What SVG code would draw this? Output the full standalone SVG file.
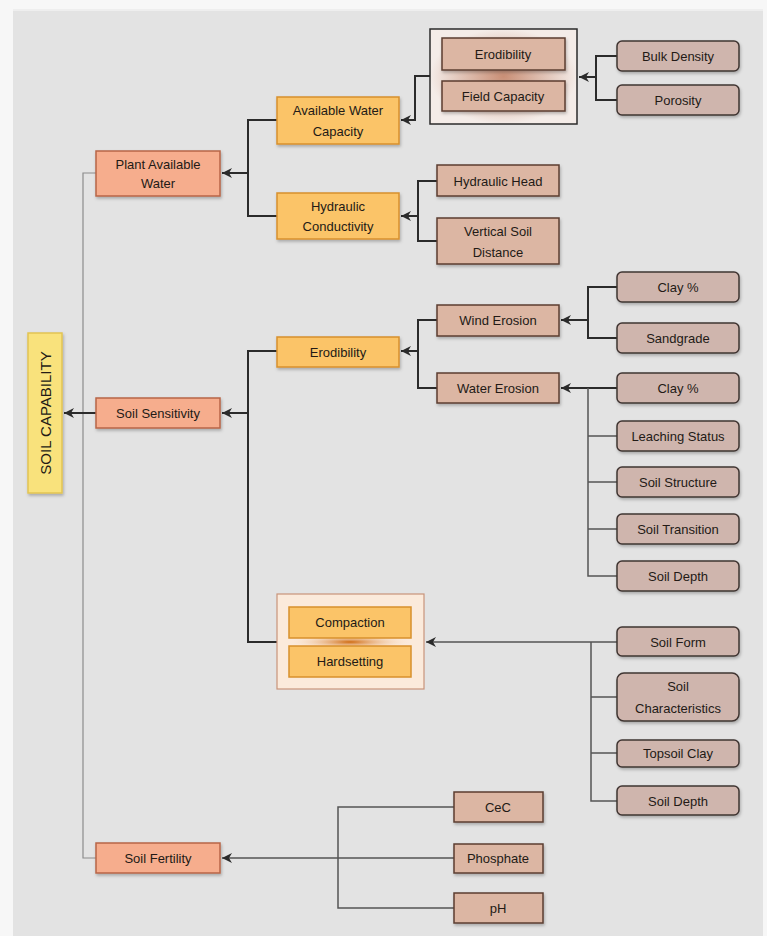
<svg xmlns="http://www.w3.org/2000/svg" width="767" height="936" viewBox="0 0 767 936">
<defs>
<style>
text{font-family:"Liberation Sans Narrow","Liberation Sans",Arial,sans-serif;font-size:13px;fill:#231a16;text-anchor:middle;dominant-baseline:central}
.salmon{fill:#f6ad8d;stroke:#b86548;stroke-width:1.5}
.orange{fill:#fbc468;stroke:#d8902c;stroke-width:1.5}
.tan{fill:#dcb6a3;stroke:#5b3d30;stroke-width:1.5}
.mauve{fill:#cfb5ad;stroke:#3f3431;stroke-width:1.5}
.yellow{fill:#f9e27c;stroke:#e2c453;stroke-width:1.5}
.ln{fill:none;stroke:#2b2b2b;stroke-width:2}
.lg{fill:none;stroke:#555;stroke-width:1.5}
.thin{fill:none;stroke:#8c8c8c;stroke-width:1.2}
.shadow{filter:url(#sh)}
</style>
<filter id="sh" x="-10%" y="-20%" width="125%" height="150%">
<feDropShadow dx="1" dy="2" stdDeviation="1.5" flood-color="#000" flood-opacity="0.25"/>
</filter>
<marker id="ah" markerWidth="12" markerHeight="12" refX="11" refY="6" orient="auto" markerUnits="userSpaceOnUse">
<path d="M1,1 L11,6 L1,11 L4,6 Z" fill="#2b2b2b"/>
</marker>
<radialGradient id="glowB" cx="50%" cy="50%" r="50%">
<stop offset="0" stop-color="#c98f76"/>
<stop offset="1" stop-color="#f4ece8"/>
</radialGradient>
<radialGradient id="glowO" cx="50%" cy="50%" r="50%">
<stop offset="0" stop-color="#cf6a10"/>
<stop offset="1" stop-color="#fbe7d2" stop-opacity="0"/>
</radialGradient>
</defs>
<rect x="0" y="0" width="767" height="936" fill="#f7f7f7"/>
<rect x="13" y="9" width="750" height="927" fill="#e3e3e3"/>
<line x1="13" y1="10" x2="763" y2="10" stroke="#eeeeee" stroke-width="2"/>

<g id="connectors">
<path class="ln" d="M617,56 H596 V100 H617"/>
<path class="ln" d="M596,77 H579" marker-end="url(#ah)"/>
<path class="ln" d="M430,76 H415 V120 H401" marker-end="url(#ah)"/>
<path class="ln" d="M277,120 H248 V216 H277"/>
<path class="ln" d="M248,173 H222" marker-end="url(#ah)"/>
<path class="ln" d="M437,181 H418 V241 H437"/>
<path class="ln" d="M418,216 H401" marker-end="url(#ah)"/>
<path class="thin" d="M96,173 H83 V858 H96"/>
<path class="ln" d="M96,413 H64" marker-end="url(#ah)"/>
<path class="ln" d="M277,351 H248 V642 H277"/>
<path class="ln" d="M248,413 H222" marker-end="url(#ah)"/>
<path class="ln" d="M437,320 H418 V388 H437"/>
<path class="ln" d="M418,351 H401" marker-end="url(#ah)"/>
<path class="ln" d="M617,287 H588 V338 H617"/>
<path class="ln" d="M588,320 H561" marker-end="url(#ah)"/>
<path class="ln" d="M617,388 H561" marker-end="url(#ah)"/>
<path class="lg" d="M588,388 V576 H617 M588,436 H617 M588,482 H617 M588,529 H617"/>
<path class="lg" d="M617,642 H426" marker-end="url(#ah)"/>
<path class="lg" d="M591,642 V801 H617 M591,697 H617 M591,753 H617"/>
<path class="lg" d="M454,858 H222" marker-end="url(#ah)"/>
<path class="lg" d="M454,807 H338 V908 H454"/>
</g>

<g id="soil-capability">
<rect class="yellow shadow" x="28" y="333" width="34" height="160"/>
<text transform="translate(45,413) rotate(-90)" style="font-family:'Liberation Sans',Arial,sans-serif;font-size:15px">SOIL CAPABILITY</text>
</g>

<g id="plant-available-water">
<rect class="salmon shadow" x="96" y="151" width="124" height="45"/>
<text x="158" y="164">Plant Available</text>
<text x="158" y="183">Water</text>
</g>
<g id="soil-sensitivity">
<rect class="salmon shadow" x="96" y="398" width="124" height="30"/>
<text x="158" y="413">Soil Sensitivity</text>
</g>
<g id="soil-fertility">
<rect class="salmon shadow" x="96" y="843" width="124" height="30"/>
<text x="158" y="858">Soil Fertility</text>
</g>

<g id="available-water-capacity">
<rect class="orange shadow" x="277" y="97" width="122" height="47"/>
<text x="338" y="110">Available Water</text>
<text x="338" y="131">Capacity</text>
</g>
<g id="hydraulic-conductivity">
<rect class="orange shadow" x="277" y="193" width="122" height="46"/>
<text x="338" y="206">Hydraulic</text>
<text x="338" y="226">Conductivity</text>
</g>
<g id="erodibility-main">
<rect class="orange shadow" x="277" y="337" width="122" height="30"/>
<text x="338" y="352">Erodibility</text>
</g>

<g id="erodibility-field-capacity-group">
<rect x="430" y="29" width="147" height="95" fill="url(#glowB)" stroke="#2b2b2b" stroke-width="1.5"/>
<g id="erodibility-inner">
<rect class="tan shadow" x="442" y="38" width="123" height="32"/>
<text x="503" y="54">Erodibility</text>
</g>
<g id="field-capacity">
<rect class="tan shadow" x="442" y="81" width="123" height="30"/>
<text x="503" y="96">Field Capacity</text>
</g>
</g>

<g id="bulk-density">
<rect class="mauve shadow" x="617" y="41" width="122" height="30" rx="5"/>
<text x="678" y="56">Bulk Density</text>
</g>
<g id="porosity">
<rect class="mauve shadow" x="617" y="85" width="122" height="30" rx="5"/>
<text x="678" y="100">Porosity</text>
</g>

<g id="hydraulic-head">
<rect class="tan shadow" x="437" y="165" width="122" height="31"/>
<text x="498" y="181">Hydraulic Head</text>
</g>
<g id="vertical-soil-distance">
<rect class="tan shadow" x="437" y="218" width="122" height="46"/>
<text x="498" y="231">Vertical Soil</text>
<text x="498" y="252">Distance</text>
</g>

<g id="wind-erosion">
<rect class="tan shadow" x="437" y="305" width="122" height="31"/>
<text x="498" y="320">Wind Erosion</text>
</g>
<g id="water-erosion">
<rect class="tan shadow" x="437" y="373" width="122" height="30"/>
<text x="498" y="388">Water Erosion</text>
</g>

<g id="clay-1">
<rect class="mauve shadow" x="617" y="272" width="122" height="30" rx="5"/>
<text x="678" y="287">Clay %</text>
</g>
<g id="sandgrade">
<rect class="mauve shadow" x="617" y="323" width="122" height="30" rx="5"/>
<text x="678" y="338">Sandgrade</text>
</g>
<g id="clay-2">
<rect class="mauve shadow" x="617" y="373" width="122" height="30" rx="5"/>
<text x="678" y="388">Clay %</text>
</g>
<g id="leaching-status">
<rect class="mauve shadow" x="617" y="421" width="122" height="30" rx="5"/>
<text x="678" y="436">Leaching Status</text>
</g>
<g id="soil-structure">
<rect class="mauve shadow" x="617" y="467" width="122" height="30" rx="5"/>
<text x="678" y="482">Soil Structure</text>
</g>
<g id="soil-transition">
<rect class="mauve shadow" x="617" y="514" width="122" height="30" rx="5"/>
<text x="678" y="529">Soil Transition</text>
</g>
<g id="soil-depth-1">
<rect class="mauve shadow" x="617" y="561" width="122" height="30" rx="5"/>
<text x="678" y="576">Soil Depth</text>
</g>

<g id="compaction-hardsetting-group">
<rect x="277" y="594" width="147" height="95" fill="#fbeadb" stroke="#c8937a" stroke-width="1.2"/>
<ellipse cx="350" cy="642" rx="62" ry="8" fill="url(#glowO)"/>
<g id="compaction">
<rect class="orange" x="289" y="607" width="122" height="31"/>
<text x="350" y="622">Compaction</text>
</g>
<g id="hardsetting">
<rect class="orange" x="289" y="646" width="122" height="31"/>
<text x="350" y="661">Hardsetting</text>
</g>
</g>

<g id="soil-form">
<rect class="mauve shadow" x="617" y="627" width="122" height="29" rx="5"/>
<text x="678" y="642">Soil Form</text>
</g>
<g id="soil-characteristics">
<rect class="mauve shadow" x="617" y="673" width="122" height="48" rx="7"/>
<text x="678" y="686">Soil</text>
<text x="678" y="708">Characteristics</text>
</g>
<g id="topsoil-clay">
<rect class="mauve shadow" x="617" y="740" width="122" height="27" rx="5"/>
<text x="678" y="753">Topsoil Clay</text>
</g>
<g id="soil-depth-2">
<rect class="mauve shadow" x="617" y="786" width="122" height="29" rx="5"/>
<text x="678" y="801">Soil Depth</text>
</g>

<g id="cec">
<rect class="tan shadow" x="454" y="792" width="89" height="30"/>
<text x="498" y="807">CeC</text>
</g>
<g id="phosphate">
<rect class="tan shadow" x="454" y="844" width="89" height="29"/>
<text x="498" y="858">Phosphate</text>
</g>
<g id="ph">
<rect class="tan shadow" x="454" y="893" width="89" height="30"/>
<text x="498" y="908">pH</text>
</g>
</svg>
